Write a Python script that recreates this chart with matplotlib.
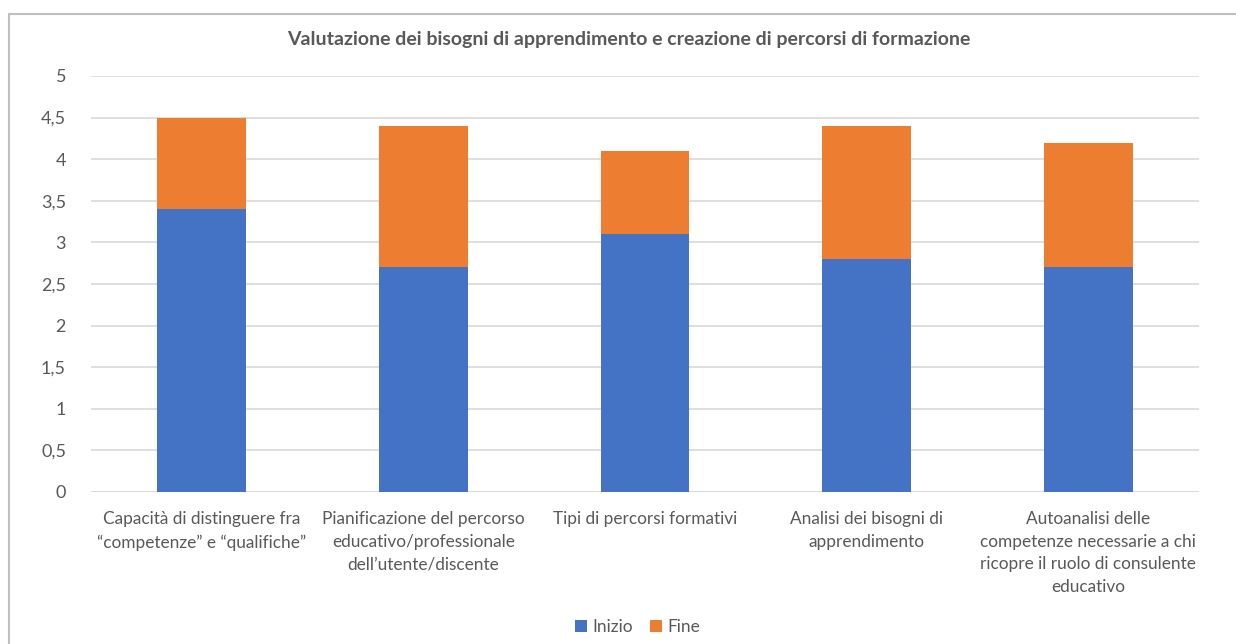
import numpy as np
import matplotlib.pyplot as plt
from matplotlib.patches import Rectangle

plt.rcParams['font.family'] = ['Lato', 'DejaVu Sans']

# Data
categories = [
    "Capacità di distinguere fra\n\u201ccompetenze\u201d e \u201cqualifiche\u201d",
    "Pianificazione del percorso\neducativo/professionale\ndell\u2019utente/discente",
    "Tipi di percorsi formativi",
    "Analisi dei bisogni di\napprendimento",
    "Autoanalisi delle\ncompetenze necessarie a chi\nricopre il ruolo di consulente\neducativo",
]
inizio = [3.4, 2.7, 3.1, 2.8, 2.7]
fine = [4.5, 4.4, 4.1, 4.4, 4.2]
yticks = [0, 0.5, 1, 1.5, 2, 2.5, 3, 3.5, 4, 4.5, 5]
ytick_labels = ["0", "0,5", "1", "1,5", "2", "2,5", "3", "3,5", "4", "4,5", "5"]

blue = '#4472C4'
orange = '#ED7D31'
txt = '#595959'

fig = plt.figure(figsize=(12.36, 6.44), dpi=100)
ax = fig.add_axes([91 / 1236, 1 - 492 / 644, 1108 / 1236, 416 / 644])

x = np.arange(len(categories))
# Fine drawn as full bar behind Inizio (overlapping columns)
ax.bar(x, fine, width=0.4, color=orange, label='Fine', zorder=2)
ax.bar(x, inizio, width=0.4, color=blue, label='Inizio', zorder=3)

ax.set_xlim(-0.5, len(categories) - 0.5)
ax.set_ylim(0, 5)
ax.set_yticks(yticks)
ax.set_yticklabels(ytick_labels, fontsize=13, color=txt)
ax.set_xticks(x)
ax.set_xticklabels(categories, fontsize=12.4, color=txt, linespacing=1.5)
ax.tick_params(length=0)
ax.tick_params(axis='x', pad=14)
ax.tick_params(axis='y', pad=18)
ax.yaxis.grid(True, color='#d9d9d9', linewidth=1.2, zorder=0)
ax.set_axisbelow(True)
for s in ax.spines.values():
    s.set_visible(False)
ax.axhline(0, color='#d9d9d9', linewidth=1.2, zorder=1)

fig.text(629 / 1236, 1 - 40 / 644, "Valutazione dei bisogni di apprendimento e creazione di percorsi di formazione",
         ha='center', va='center', fontsize=14, fontweight='bold', color=txt)

handles, labels = ax.get_legend_handles_labels()
fig.legend(handles[::-1], labels[::-1], loc='center', bbox_to_anchor=(0.516, 1 - 627 / 644),
           ncol=2, frameon=False, fontsize=12.5, handlelength=0.7, handleheight=0.7,
           handletextpad=0.3, columnspacing=1.0, labelcolor=txt)

# outer chart border (left and top visible)
fig.patches.append(Rectangle((9 / 1236, -0.1), 1.2, 1 - 14 / 644 + 0.1, transform=fig.transFigure,
                             fill=False, edgecolor='#bfbfbf', linewidth=1.5))

fig.savefig('out.png', dpi=100)
